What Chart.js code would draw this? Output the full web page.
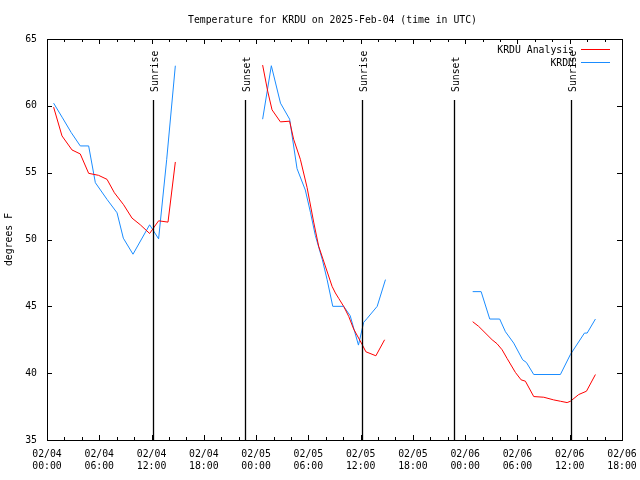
<!DOCTYPE html>
<html lang="en">
<head>
    <meta charset="UTF-8">
    <title>Temperature for KRDU</title>
    <script src="https://cdn.jsdelivr.net/npm/chart.js"></script>
    <style>
        body { margin: 0; background: #fff; }
        canvas { display: block; }
    </style>
</head>
<body>
<canvas id="tempChart" width="640" height="480"></canvas>

<script>
    // hours since 02/04 00:00 UTC; null temps break the line between days
    const analysisHours = [0.76, 1.72, 2.87, 3.82, 4.78, 5.92, 6.89, 7.73, 8.79, 9.76, 10.71, 11.78, 12.81, 13.89, 14.73,
        19.5,
        24.75, 25.33, 25.83, 26.79, 27.85, 28.31, 29.08, 29.85, 30.61, 31.18, 32.72, 33.1, 33.48, 34.05, 34.63, 35.2, 36.17, 36.6, 37.75, 38.75,
        43.5,
        48.86, 49.55, 51.09, 51.66, 52.24, 52.81, 53.77, 54.42, 54.91, 55.87, 57.02, 58.16, 58.93, 59.7, 60.08, 61.03, 61.92, 62.95];
    const analysisTemps = [59.9, 57.75, 56.7, 56.4, 54.95, 54.8, 54.5, 53.5, 52.6, 51.6, 51.1, 50.45, 51.4, 51.3, 55.8,
        null,
        63.05, 61.1, 59.7, 58.8, 58.85, 57.5, 56.0, 53.9, 51.3, 49.5, 46.5, 46.0, 45.6, 45.0, 44.25, 43.3, 42.15, 41.6, 41.3, 42.5,
        null,
        43.85, 43.5, 42.5, 42.2, 41.75, 41.1, 40.05, 39.5, 39.4, 38.25, 38.2, 38.0, 37.9, 37.8, 37.9, 38.4, 38.65, 39.9];

    const obsHours = [0.76, 1.78, 2.78, 3.82, 4.78, 5.55, 6.89, 8.04, 8.76, 9.87, 11.78, 12.81, 13.74, 14.73,
        19.5,
        24.75, 25.75, 26.8, 27.85, 28.7, 29.65, 30.25, 30.8, 31.6, 32.15, 32.8, 34.05, 34.8, 35.75, 36.35, 36.75, 37.9, 38.85,
        43.5,
        48.86, 49.83, 50.82, 51.96, 52.62, 53.57, 54.6, 55.03, 55.87, 58.93, 60.08, 61.69, 62.0, 62.95];
    const obsTemps = [60.2, 59.1, 58.0, 57.0, 57.0, 54.25, 53.0, 52.0, 50.1, 48.9, 51.1, 50.05, 56.0, 63.0,
        null,
        59.0, 63.0, 60.2, 59.0, 55.3, 53.7, 52.0, 50.3, 48.5, 47.0, 45.0, 45.0, 44.3, 42.1, 43.8, 44.1, 45.0, 47.0,
        null,
        46.1, 46.1, 44.05, 44.05, 43.1, 42.25, 41.0, 40.8, 39.9, 39.9, 41.4, 43.0, 43.0, 44.05];

    const sunHours = [12.2, 22.7, 36.2, 46.7, 60.2];
    const sunLabels = ['Sunrise', 'Sunset', 'Sunrise', 'Sunset', 'Sunrise'];

    const titleText = 'Temperature for KRDU on 2025-Feb-04 (time in UTC)';
    const FONT = "'DejaVu Sans Mono', monospace";

    const toPoints = (hours, temps) => hours.map((h, i) => ({ x: h, y: temps[i] }));

    const pad2 = n => String(n).padStart(2, '0');

    // gnuplot style frame, inward ticks, sun markers, legend and title
    const gnuplotLook = {
        id: 'gnuplotLook',
        afterDatasetsDraw(chart) {
            const { ctx, chartArea: a, scales } = chart;
            const xs = scales.x, ys = scales.y;
            ctx.save();
            ctx.strokeStyle = '#000';
            ctx.fillStyle = '#000';
            ctx.lineWidth = 1;

            // frame
            ctx.strokeRect(Math.round(a.left) + 0.5, Math.round(a.top) + 0.5,
                Math.round(a.right - a.left), Math.round(a.bottom - a.top));

            // x ticks, major every 6h, minor every 2h
            ctx.beginPath();
            for (let v = xs.min; v <= xs.max; v += 2) {
                const px = Math.round(xs.getPixelForValue(v)) + 0.5;
                const len = v % 6 === 0 ? 5 : 3;
                ctx.moveTo(px, a.bottom); ctx.lineTo(px, a.bottom - len);
                ctx.moveTo(px, a.top); ctx.lineTo(px, a.top + len);
            }
            ys.ticks.forEach(t => {
                const py = Math.round(ys.getPixelForValue(t.value)) + 0.5;
                ctx.moveTo(a.left, py); ctx.lineTo(a.left + 5, py);
                ctx.moveTo(a.right, py); ctx.lineTo(a.right - 5, py);
            });
            ctx.stroke();

            // sunrise / sunset lines
            ctx.font = '9.8px ' + FONT;
            sunHours.forEach((h, i) => {
                const px = Math.round(xs.getPixelForValue(h)) + 0.5;
                ctx.lineWidth = 1.3;
                ctx.beginPath();
                ctx.moveTo(px, a.top + 61);
                ctx.lineTo(px, a.bottom);
                ctx.stroke();
                ctx.save();
                ctx.translate(px + 1.5, a.top + 53);
                ctx.rotate(-Math.PI / 2);
                ctx.textAlign = 'left';
                ctx.textBaseline = 'middle';
                ctx.fillText(sunLabels[i], 0, 0);
                ctx.restore();
            });

            // legend, text left of sample line
            ctx.lineWidth = 1;
            ctx.textAlign = 'right';
            ctx.textBaseline = 'middle';
            chart.data.datasets.forEach((ds, i) => {
                const ly = a.top + 10.5 + i * 13;
                ctx.fillStyle = '#000';
                ctx.fillText(ds.label, a.right - 48, ly + 1);
                ctx.strokeStyle = ds.borderColor;
                ctx.beginPath();
                ctx.moveTo(a.right - 41, ly);
                ctx.lineTo(a.right - 12, ly);
                ctx.stroke();
            });

            // title
            ctx.fillStyle = '#000';
            ctx.textAlign = 'center';
            ctx.fillText(titleText, (a.left + a.right) / 2 - 2, 20);
            ctx.restore();
        }
    };

    new Chart(document.getElementById('tempChart'), {
        type: 'line',
        data: {
            datasets: [{
                label: 'KRDU Analysis',
                data: toPoints(analysisHours, analysisTemps),
                borderColor: '#ff0000',
                borderWidth: 1,
                pointRadius: 0,
                tension: 0,
                spanGaps: false
            }, {
                label: 'KRDU',
                data: toPoints(obsHours, obsTemps),
                borderColor: '#1a8cff',
                borderWidth: 1,
                pointRadius: 0,
                tension: 0,
                spanGaps: false
            }]
        },
        options: {
            responsive: false,
            animation: false,
            devicePixelRatio: 1,
            layout: { padding: { top: 39, right: 18, left: 0, bottom: 0 } },
            plugins: {
                legend: { display: false },
                tooltip: { enabled: false }
            },
            scales: {
                x: {
                    type: 'linear',
                    min: 0,
                    max: 66,
                    grid: { display: false, drawTicks: false },
                    border: { display: false },
                    ticks: {
                        stepSize: 6,
                        padding: 9,
                        color: '#000',
                        font: { family: FONT, size: 9.8 },
                        maxRotation: 0,
                        autoSkip: false,
                        callback: v => {
                            const day = 4 + Math.floor(v / 24);
                            return ['02/' + pad2(day), pad2(v % 24) + ':00'];
                        }
                    },
                    afterFit: s => {
                        s.height = 40;
                        s.paddingLeft = 0;
                        s.paddingRight = 0;
                    }
                },
                y: {
                    min: 35,
                    max: 65,
                    grid: { display: false, drawTicks: false },
                    border: { display: false },
                    ticks: {
                        stepSize: 5,
                        padding: 10,
                        color: '#000',
                        font: { family: FONT, size: 9.8 }
                    },
                    title: {
                        display: true,
                        text: 'degrees F',
                        color: '#000',
                        font: { family: FONT, size: 9.8 },
                        padding: { top: 4, bottom: 0 }
                    },
                    afterFit: s => {
                        s.width = 47;
                        s.paddingTop = 0;
                        s.paddingBottom = 0;
                    }
                }
            }
        },
        plugins: [gnuplotLook]
    });
</script>
</body>
</html>
